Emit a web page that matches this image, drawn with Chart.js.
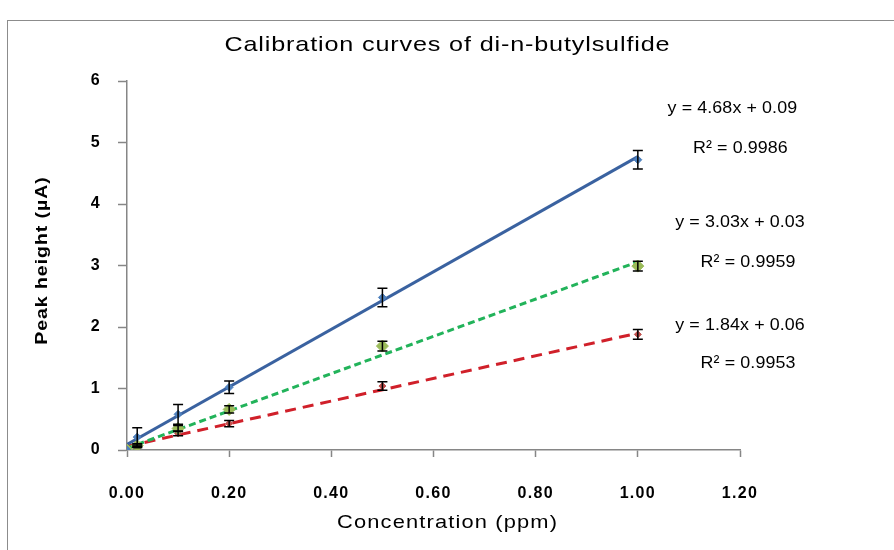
<!DOCTYPE html>
<html>
<head>
<meta charset="utf-8">
<script src="https://cdn.jsdelivr.net/npm/chart.js@4/dist/chart.umd.min.js"></script>
<style>
  html, body { margin: 0; padding: 0; background: #fff; overflow: hidden; }
  #wrap { width: 894px; height: 550px; }
</style>
</head>
<body>
<div id="wrap"><canvas id="calib" width="894" height="550"></canvas></div>
<script>
// concentrations (ppm) measured
const concentrations = [0, 0.02, 0.1, 0.2, 0.5, 1.0];

// peak heights (uA) and error bars
const blueValues = [0, 0.21, 0.58, 1.02, 2.48, 4.72];
const blueErrors = [0, 0.15, 0.16, 0.10, 0.15, 0.15];
const greenValues = [0, 0.07, 0.35, 0.66, 1.69, 2.99];
const greenErrors = [0, 0.03, 0.05, 0.06, 0.08, 0.08];
const redValues = [0, 0.06, 0.27, 0.43, 1.04, 1.88];
const redErrors = [0, 0.02, 0.04, 0.05, 0.07, 0.08];

// linear fits as printed on the chart
const fitSlopes = [4.68, 3.03, 1.84];
const fitIntercepts = [0.09, 0.03, 0.06];
const fitR2 = ["0.9986", "0.9959", "0.9953"];
const fitRange = [0, 1.0];

const xTicks = [0, 0.2, 0.4, 0.6, 0.8, 1.0, 1.2];
const yTicks = [0, 1, 2, 3, 4, 5, 6];

const chartTitle = "Calibration curves of di-n-butylsulfide";
const xTitle = "Concentration (ppm)";
const yTitle = "Peak height (\u00B5A)";

const FONT = "'Liberation Sans', Arial, sans-serif";
Chart.defaults.font.family = FONT;
Chart.defaults.color = "#000";

function points(values) {
  return concentrations.map((c, i) => ({ x: c, y: values[i] }));
}
function fitLine(k) {
  return fitRange.map(x => ({ x: x, y: fitSlopes[k] * x + fitIntercepts[k] }));
}

const lineColors = ["#3A62A0", "#22B35A", "#D0202A"];
const dashes = [[], [7, 4], [11, 7]];

// fit lines
const datasets = [0, 1, 2].map(k => ({
  label: "fit " + (k + 1),
  data: fitLine(k),
  showLine: true,
  borderColor: lineColors[k],
  borderWidth: 3,
  borderDash: dashes[k],
  pointRadius: 0,
  order: 2
}));

// measured points with error bars
datasets.push(
  { label: "Series 1", data: points(blueValues), errors: blueErrors, pointStyle: "rectRot",
    pointRadius: 4, backgroundColor: "#4F81BD", borderColor: "#4F81BD", showLine: false, order: 1 },
  { label: "Series 2", data: points(greenValues), errors: greenErrors, pointStyle: "rectRot",
    pointRadius: 6, backgroundColor: "#9BBB59", borderColor: "#9BBB59", showLine: false, order: 1 },
  { label: "Series 3", data: points(redValues), errors: redErrors, pointStyle: "rectRot",
    pointRadius: 3.5, backgroundColor: "#C0504D", borderColor: "#C0504D", showLine: false, order: 1 }
);

const errorBars = {
  id: "errorBars",
  afterDatasetsDraw(chart) {
    const { ctx, scales: { x, y } } = chart;
    ctx.save();
    ctx.strokeStyle = "#000";
    ctx.lineWidth = 1.5;
    chart.data.datasets.forEach(ds => {
      if (!ds.errors) return;
      ds.data.forEach((p, i) => {
        const e = ds.errors[i];
        if (!e) return;
        const px = x.getPixelForValue(p.x);
        const top = y.getPixelForValue(p.y + e);
        const bot = y.getPixelForValue(p.y - e);
        ctx.beginPath();
        ctx.moveTo(px, top); ctx.lineTo(px, bot);
        ctx.moveTo(px - 5, top); ctx.lineTo(px + 5, top);
        ctx.moveTo(px - 5, bot); ctx.lineTo(px + 5, bot);
        ctx.stroke();
      });
    });
    ctx.restore();
  }
};

// equation labels, placed in data units next to the line ends
const labelSpots = [
  { x: 1.185, eq: 5.55, r2: 4.9 },
  { x: 1.2, eq: 3.7, r2: 3.05 },
  { x: 1.2, eq: 2.03, r2: 1.41 }
];

// the original text is rendered wide, so stretch it a little
function wideText(ctx, text, x, y, sx, spacing) {
  ctx.save();
  ctx.translate(x, y);
  ctx.scale(sx, 1);
  ctx.letterSpacing = spacing + "px";
  ctx.fillText(text, spacing / 2, 0);
  ctx.restore();
}

const texts = {
  id: "texts",
  beforeDraw(chart) {
    // frame around the chart
    const ctx = chart.ctx;
    ctx.save();
    ctx.strokeStyle = "#8c8c8c";
    ctx.lineWidth = 1;
    ctx.strokeRect(7.5, 20.5, 1000, 1000);
    ctx.restore();
    // wider spacing for tick labels (scales are drawn next)
    ctx.letterSpacing = "1.3px";
  },
  beforeDatasetsDraw(chart) {
    chart.ctx.letterSpacing = "0px";
  },
  afterDraw(chart) {
    const { ctx, scales: { x, y } } = chart;
    ctx.save();
    ctx.fillStyle = "#000";
    ctx.textAlign = "center";
    ctx.textBaseline = "middle";

    ctx.font = "21px " + FONT;
    wideText(ctx, chartTitle, chart.width / 2, 45, 1.2, 0.7);

    ctx.font = "19px " + FONT;
    wideText(ctx, xTitle, chart.width / 2, 523, 1.15, 1);

    ctx.save();
    ctx.translate(42, 261);
    ctx.rotate(-Math.PI / 2);
    ctx.font = "bold 17px " + FONT;
    wideText(ctx, yTitle, 0, 0, 1.15, 0.8);
    ctx.restore();

    ctx.font = "17px " + FONT;
    labelSpots.forEach((s, k) => {
      const px = x.getPixelForValue(s.x);
      wideText(ctx, "y = " + fitSlopes[k].toFixed(2) + "x + " + fitIntercepts[k].toFixed(2), px, y.getPixelForValue(s.eq), 1.05, 0.1);
      wideText(ctx, "R\u00B2 = " + fitR2[k], px + 8, y.getPixelForValue(s.r2), 1.05, 0.1);
    });
    ctx.restore();
  }
};

new Chart(document.getElementById("calib"), {
  type: "scatter",
  data: { datasets: datasets },
  options: {
    responsive: false,
    animation: false,
    layout: { padding: { left: 20, right: 154, top: 81, bottom: 0 } },
    plugins: {
      legend: { display: false },
      tooltip: { enabled: false },
      title: { display: false }
    },
    scales: {
      x: {
        type: "linear",
        min: 0,
        max: 1.2,
        afterBuildTicks: s => { s.ticks = xTicks.map(v => ({ value: v })); },
        afterFit: s => { s.height = 100; },
        border: { color: "#868686", width: 1.5 },
        grid: { drawOnChartArea: false, tickLength: 7, tickColor: "#868686", tickWidth: 1.5 },
        ticks: { padding: 27, font: { size: 16, weight: "bold" }, callback: v => v.toFixed(2) }
      },
      y: {
        type: "linear",
        min: 0,
        max: 6,
        afterBuildTicks: s => { s.ticks = yTicks.map(v => ({ value: v })); },
        afterFit: s => { s.width = 107; },
        border: { color: "#868686", width: 1.5 },
        grid: { drawOnChartArea: false, tickLength: 9, tickColor: "#868686", tickWidth: 1.5 },
        ticks: { padding: 17, font: { size: 16, weight: "bold" } }
      }
    }
  },
  plugins: [errorBars, texts]
});
</script>
</body>
</html>
